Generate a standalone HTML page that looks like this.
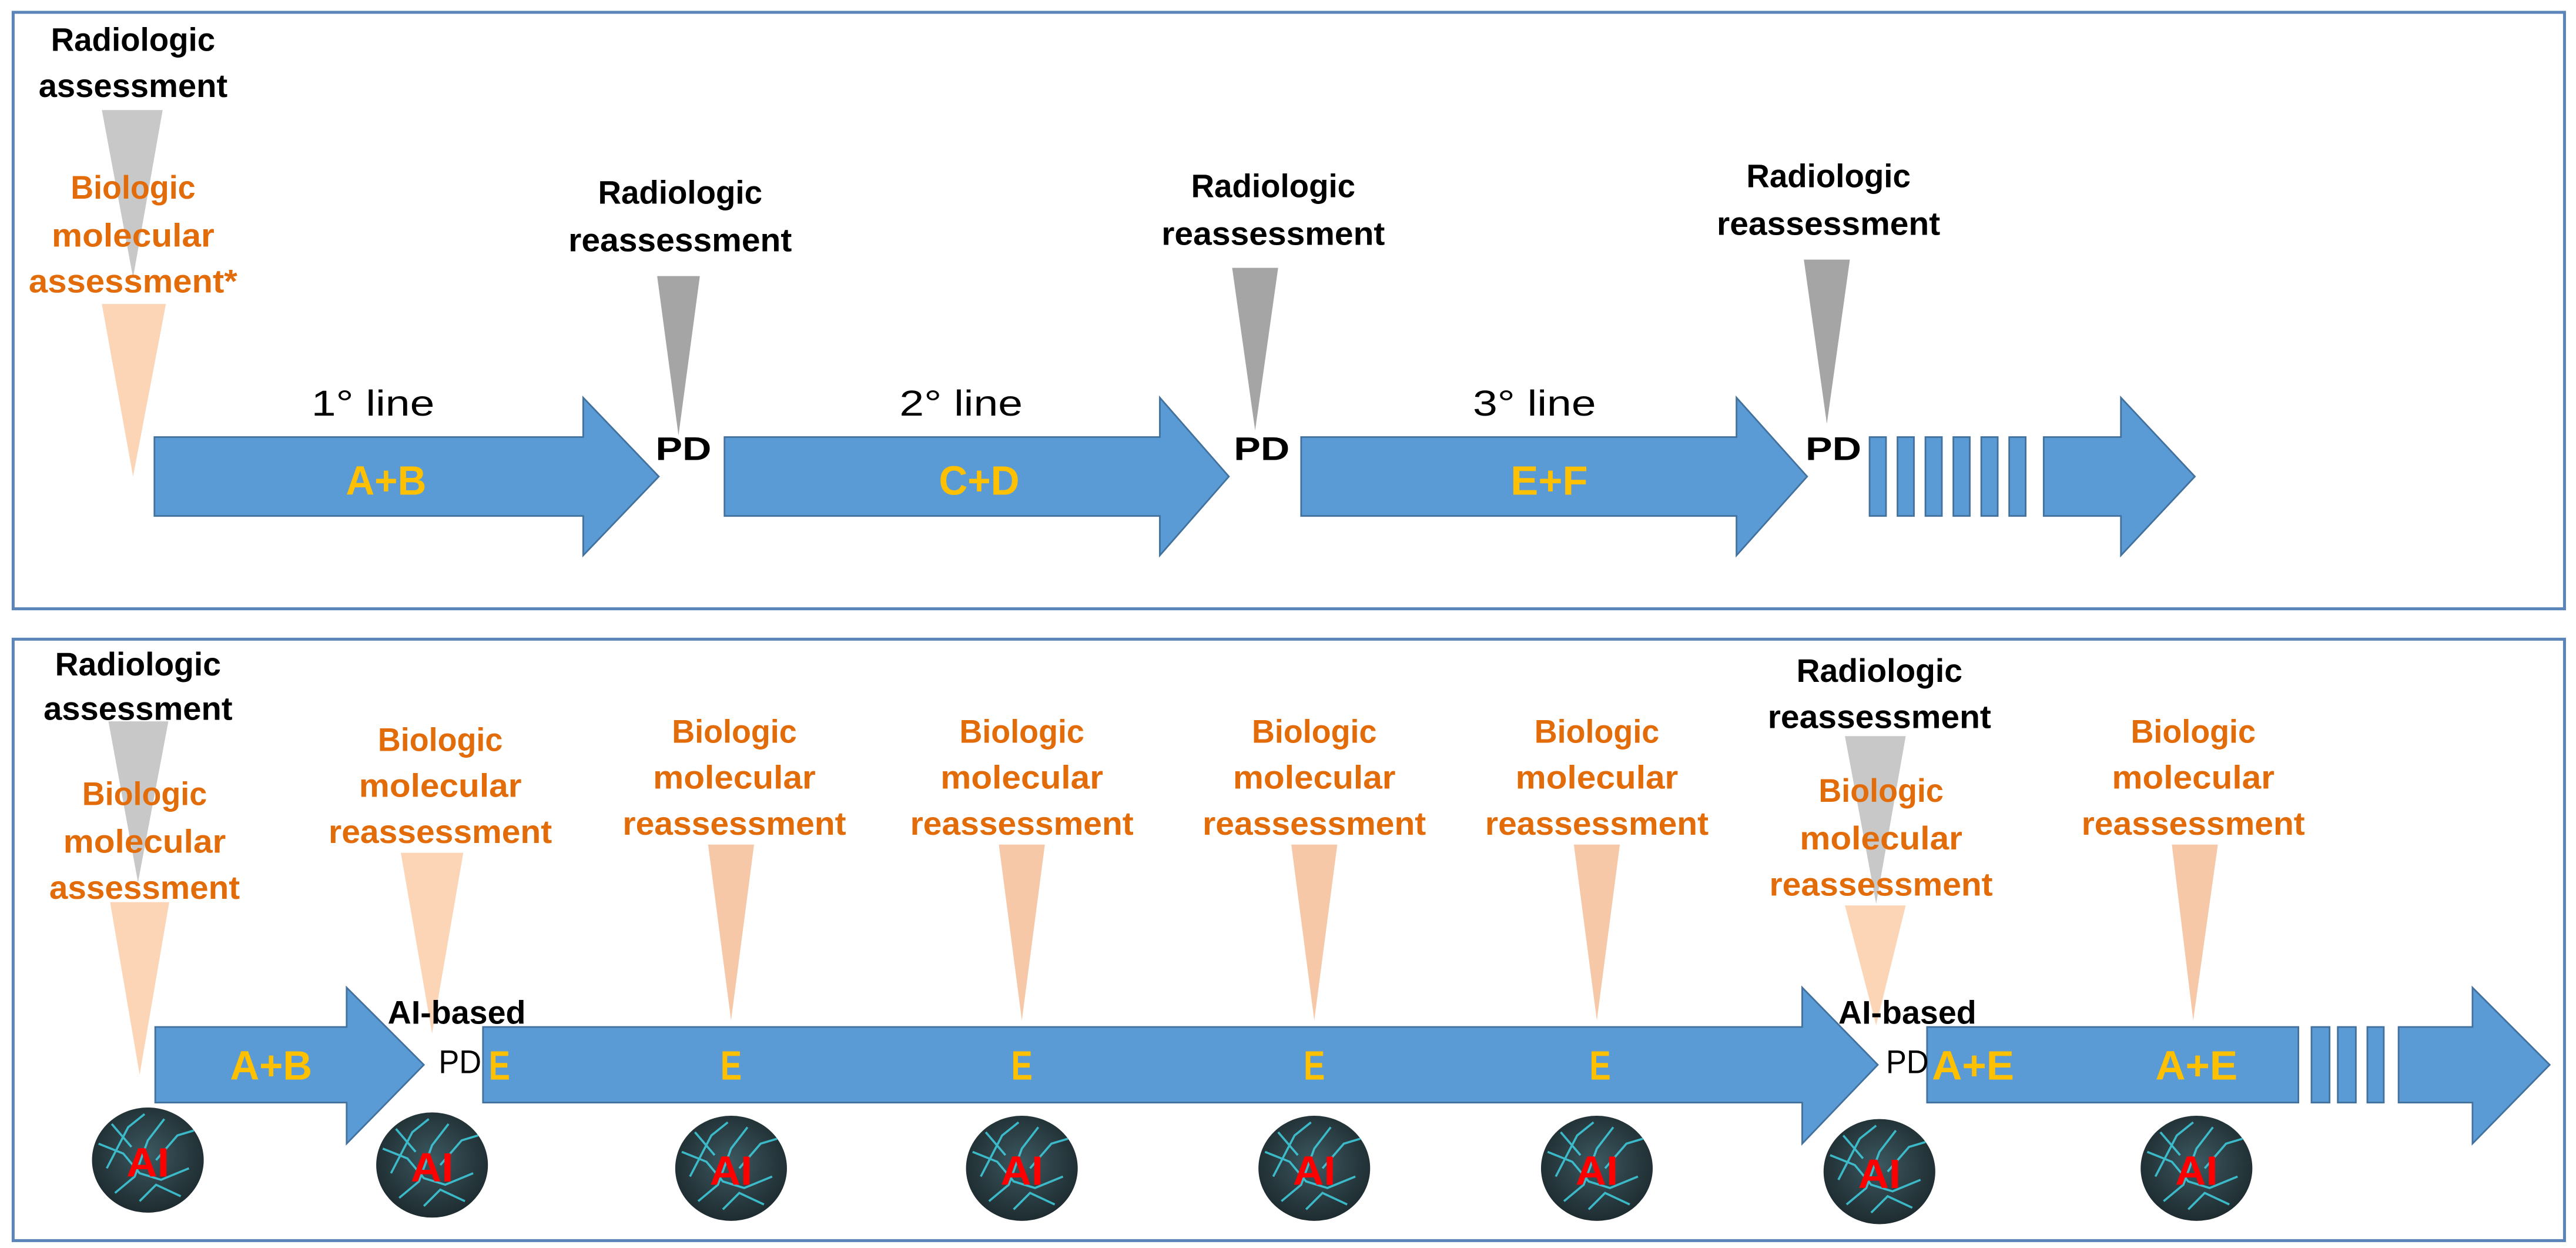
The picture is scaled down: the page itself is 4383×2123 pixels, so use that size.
<!DOCTYPE html>
<html><head><meta charset="utf-8"><style>
html,body{margin:0;padding:0;background:#fff;}
svg{display:block;}
text{font-family:"Liberation Sans",Arial,sans-serif;}
.b{font-weight:bold;font-size:20px;fill:#000;}
.o{font-weight:bold;font-size:20px;fill:#E36C0A;}
.y{font-weight:bold;font-size:25px;fill:#FFC000;}
.r{font-weight:bold;font-size:25px;fill:#FF0000;}
.n{font-size:22px;fill:#000;}
</style></head><body>
<svg width="4383" height="2123" viewBox="0 0 1568 759.5" preserveAspectRatio="none" xmlns="http://www.w3.org/2000/svg">
<defs>
<radialGradient id="ai" cx="50%" cy="45%" r="55%">
<stop offset="0" stop-color="#3c5860"/><stop offset="1" stop-color="#1e2c30"/>
</radialGradient>
<g id="circ">
<ellipse cx="0" cy="0" rx="34" ry="32" fill="url(#ai)"/>
<path d="M-30,-10 L-15,-4 L-5,8 L8,12 L25,5 M-20,20 L-8,10 L0,-12 L10,-25 M5,0 L18,-15 L28,-18 M-25,5 L-12,-20 L-2,-28 M-5,25 L5,15 L20,22 M-10,-8 L-22,-22" stroke="#3fd0e0" stroke-width="1.3" fill="none" opacity="0.85"/>
<text x="0" y="10" text-anchor="middle" class="r" textLength="26" lengthAdjust="spacingAndGlyphs">AI</text>
</g>
</defs>

<!-- boxes -->
<rect x="8" y="7.5" width="1553" height="363" fill="none" stroke="#5b84b8" stroke-width="1.8"/>
<rect x="8" y="389" width="1553" height="366" fill="none" stroke="#5b84b8" stroke-width="1.8"/>

<!-- ===== TOP ROW ===== -->
<polygon points="62,67 99,67 81,169" fill="#c8c8c8"/>
<polygon points="62,185 101,185 81,290" fill="#fbd5b5"/>
<text x="81" y="31" text-anchor="middle" class="b" textLength="100" lengthAdjust="spacingAndGlyphs">Radiologic</text>
<text x="81" y="59" text-anchor="middle" class="b" textLength="115" lengthAdjust="spacingAndGlyphs">assessment</text>
<text x="81" y="121" text-anchor="middle" class="o" textLength="76" lengthAdjust="spacingAndGlyphs">Biologic</text>
<text x="81" y="150" text-anchor="middle" class="o" textLength="99" lengthAdjust="spacingAndGlyphs">molecular</text>
<text x="81" y="178" text-anchor="middle" class="o" textLength="127" lengthAdjust="spacingAndGlyphs">assessment*</text>

<polygon points="94,266 355,266 355,242 401,290 355,338 355,314 94,314" fill="#5b9bd5" stroke="#41719c" stroke-width="1"/>
<polygon points="441,266 706,266 706,242 748,290 706,338 706,314 441,314" fill="#5b9bd5" stroke="#41719c" stroke-width="1"/>
<polygon points="792,266 1057,266 1057,242 1100,290 1057,338 1057,314 792,314" fill="#5b9bd5" stroke="#41719c" stroke-width="1"/>
<g fill="#5b9bd5" stroke="#41719c" stroke-width="1">
<rect x="1138" y="266" width="10" height="48"/><rect x="1155" y="266" width="10" height="48"/>
<rect x="1172" y="266" width="10" height="48"/><rect x="1189" y="266" width="10" height="48"/>
<rect x="1206" y="266" width="10" height="48"/><rect x="1223" y="266" width="10" height="48"/>
</g>
<polygon points="1244,266 1291,266 1291,242 1336,290 1291,338 1291,314 1244,314" fill="#5b9bd5" stroke="#41719c" stroke-width="1"/>

<text x="227" y="253" text-anchor="middle" class="n" textLength="75" lengthAdjust="spacingAndGlyphs">1° line</text>
<text x="585" y="253" text-anchor="middle" class="n" textLength="75" lengthAdjust="spacingAndGlyphs">2° line</text>
<text x="934" y="253" text-anchor="middle" class="n" textLength="75" lengthAdjust="spacingAndGlyphs">3° line</text>
<text x="235" y="301" text-anchor="middle" class="y" textLength="49" lengthAdjust="spacingAndGlyphs">A+B</text>
<text x="596" y="301" text-anchor="middle" class="y" textLength="49" lengthAdjust="spacingAndGlyphs">C+D</text>
<text x="943" y="301" text-anchor="middle" class="y" textLength="47" lengthAdjust="spacingAndGlyphs">E+F</text>

<polygon points="400,168 426,168 413,265" fill="#a5a5a5"/>
<polygon points="750,163 778,163 764,262" fill="#a5a5a5"/>
<polygon points="1098,158 1126,158 1112,258" fill="#a5a5a5"/>
<text x="416" y="280" text-anchor="middle" class="b" textLength="34" lengthAdjust="spacingAndGlyphs">PD</text>
<text x="768" y="280" text-anchor="middle" class="b" textLength="34" lengthAdjust="spacingAndGlyphs">PD</text>
<text x="1116" y="280" text-anchor="middle" class="b" textLength="34" lengthAdjust="spacingAndGlyphs">PD</text>

<text x="414" y="124" text-anchor="middle" class="b" textLength="100" lengthAdjust="spacingAndGlyphs">Radiologic</text>
<text x="414" y="153" text-anchor="middle" class="b" textLength="136" lengthAdjust="spacingAndGlyphs">reassessment</text>
<text x="775" y="120" text-anchor="middle" class="b" textLength="100" lengthAdjust="spacingAndGlyphs">Radiologic</text>
<text x="775" y="149" text-anchor="middle" class="b" textLength="136" lengthAdjust="spacingAndGlyphs">reassessment</text>
<text x="1113" y="114" text-anchor="middle" class="b" textLength="100" lengthAdjust="spacingAndGlyphs">Radiologic</text>
<text x="1113" y="143" text-anchor="middle" class="b" textLength="136" lengthAdjust="spacingAndGlyphs">reassessment</text>

<!-- ===== BOTTOM ROW ===== -->
<polygon points="66,439 102.5,439 84,537" fill="#c8c8c8"/>
<polygon points="67,549 103,549 85,654" fill="#fbd5b5"/>
<text x="84" y="411" text-anchor="middle" class="b" textLength="101" lengthAdjust="spacingAndGlyphs">Radiologic</text>
<text x="84" y="438" text-anchor="middle" class="b" textLength="115" lengthAdjust="spacingAndGlyphs">assessment</text>
<text x="88" y="490" text-anchor="middle" class="o" textLength="76" lengthAdjust="spacingAndGlyphs">Biologic</text>
<text x="88" y="519" text-anchor="middle" class="o" textLength="99" lengthAdjust="spacingAndGlyphs">molecular</text>
<text x="88" y="547" text-anchor="middle" class="o" textLength="116" lengthAdjust="spacingAndGlyphs">assessment</text>

<polygon points="94.5,625 211,625 211,601 258,648 211,696 211,671 94.5,671" fill="#5b9bd5" stroke="#41719c" stroke-width="1"/>
<polygon points="294,625 1097,625 1097,601 1143,648 1097,696 1097,671 294,671" fill="#5b9bd5" stroke="#41719c" stroke-width="1"/>
<rect x="1173" y="625" width="226" height="46" fill="#5b9bd5" stroke="#41719c" stroke-width="1"/>
<g fill="#5b9bd5" stroke="#41719c" stroke-width="1">
<rect x="1407" y="625" width="11" height="46"/><rect x="1423" y="625" width="11" height="46"/><rect x="1441" y="625" width="10" height="46"/>
</g>
<polygon points="1460,625 1505,625 1505,601 1552,648 1505,696 1505,671 1460,671" fill="#5b9bd5" stroke="#41719c" stroke-width="1"/>

<text x="165" y="657" text-anchor="middle" class="y" textLength="50" lengthAdjust="spacingAndGlyphs">A+B</text>
<text x="304" y="657" text-anchor="middle" class="y" textLength="13" lengthAdjust="spacingAndGlyphs">E</text>
<text x="445" y="657" text-anchor="middle" class="y" textLength="13" lengthAdjust="spacingAndGlyphs">E</text>
<text x="622" y="657" text-anchor="middle" class="y" textLength="13" lengthAdjust="spacingAndGlyphs">E</text>
<text x="800" y="657" text-anchor="middle" class="y" textLength="13" lengthAdjust="spacingAndGlyphs">E</text>
<text x="974" y="657" text-anchor="middle" class="y" textLength="13" lengthAdjust="spacingAndGlyphs">E</text>
<text x="1201" y="657" text-anchor="middle" class="y" textLength="50" lengthAdjust="spacingAndGlyphs">A+E</text>
<text x="1337" y="657" text-anchor="middle" class="y" textLength="50" lengthAdjust="spacingAndGlyphs">A+E</text>

<!-- peach reassessment triangles -->
<polygon points="244,519 282,519 263,629" fill="#fbd5b5"/>
<polygon points="431,514 459,514 445,621" fill="#f6c8a8"/>
<polygon points="608,514 636,514 622,621" fill="#f6c8a8"/>
<polygon points="786,514 814,514 800,621" fill="#f6c8a8"/>
<polygon points="958,514 986,514 972,621" fill="#f6c8a8"/>
<polygon points="1322,514 1350,514 1335,621" fill="#f6c8a8"/>
<polygon points="1123,448 1160,448 1142,550" fill="#c8c8c8"/>
<polygon points="1123,551 1160,551 1142,624" fill="#fbd5b5"/>

<g>
<text x="268" y="457" text-anchor="middle" class="o" textLength="76" lengthAdjust="spacingAndGlyphs">Biologic</text>
<text x="268" y="485" text-anchor="middle" class="o" textLength="99" lengthAdjust="spacingAndGlyphs">molecular</text>
<text x="268" y="513" text-anchor="middle" class="o" textLength="136" lengthAdjust="spacingAndGlyphs">reassessment</text>
</g>
<g>
<text x="447" y="452" text-anchor="middle" class="o" textLength="76" lengthAdjust="spacingAndGlyphs">Biologic</text>
<text x="447" y="480" text-anchor="middle" class="o" textLength="99" lengthAdjust="spacingAndGlyphs">molecular</text>
<text x="447" y="508" text-anchor="middle" class="o" textLength="136" lengthAdjust="spacingAndGlyphs">reassessment</text>
</g>
<g>
<text x="622" y="452" text-anchor="middle" class="o" textLength="76" lengthAdjust="spacingAndGlyphs">Biologic</text>
<text x="622" y="480" text-anchor="middle" class="o" textLength="99" lengthAdjust="spacingAndGlyphs">molecular</text>
<text x="622" y="508" text-anchor="middle" class="o" textLength="136" lengthAdjust="spacingAndGlyphs">reassessment</text>
</g>
<g>
<text x="800" y="452" text-anchor="middle" class="o" textLength="76" lengthAdjust="spacingAndGlyphs">Biologic</text>
<text x="800" y="480" text-anchor="middle" class="o" textLength="99" lengthAdjust="spacingAndGlyphs">molecular</text>
<text x="800" y="508" text-anchor="middle" class="o" textLength="136" lengthAdjust="spacingAndGlyphs">reassessment</text>
</g>
<g>
<text x="972" y="452" text-anchor="middle" class="o" textLength="76" lengthAdjust="spacingAndGlyphs">Biologic</text>
<text x="972" y="480" text-anchor="middle" class="o" textLength="99" lengthAdjust="spacingAndGlyphs">molecular</text>
<text x="972" y="508" text-anchor="middle" class="o" textLength="136" lengthAdjust="spacingAndGlyphs">reassessment</text>
</g>
<g>
<text x="1335" y="452" text-anchor="middle" class="o" textLength="76" lengthAdjust="spacingAndGlyphs">Biologic</text>
<text x="1335" y="480" text-anchor="middle" class="o" textLength="99" lengthAdjust="spacingAndGlyphs">molecular</text>
<text x="1335" y="508" text-anchor="middle" class="o" textLength="136" lengthAdjust="spacingAndGlyphs">reassessment</text>
</g>
<text x="1144" y="415" text-anchor="middle" class="b" textLength="101" lengthAdjust="spacingAndGlyphs">Radiologic</text>
<text x="1144" y="443" text-anchor="middle" class="b" textLength="136" lengthAdjust="spacingAndGlyphs">reassessment</text>
<text x="1145" y="488" text-anchor="middle" class="o" textLength="76" lengthAdjust="spacingAndGlyphs">Biologic</text>
<text x="1145" y="517" text-anchor="middle" class="o" textLength="99" lengthAdjust="spacingAndGlyphs">molecular</text>
<text x="1145" y="545" text-anchor="middle" class="o" textLength="136" lengthAdjust="spacingAndGlyphs">reassessment</text>

<text x="278" y="623" text-anchor="middle" class="b" textLength="84" lengthAdjust="spacingAndGlyphs">AI-based</text>
<text x="280" y="653" text-anchor="middle" class="b" textLength="26" lengthAdjust="spacingAndGlyphs" style="font-weight:normal">PD</text>
<text x="1161" y="623" text-anchor="middle" class="b" textLength="84" lengthAdjust="spacingAndGlyphs">AI-based</text>
<text x="1161" y="653" text-anchor="middle" class="b" textLength="26" lengthAdjust="spacingAndGlyphs" style="font-weight:normal">PD</text>

<use href="#circ" x="90" y="706"/>
<use href="#circ" x="263" y="709"/>
<use href="#circ" x="445" y="711"/>
<use href="#circ" x="622" y="711"/>
<use href="#circ" x="800" y="711"/>
<use href="#circ" x="972" y="711"/>
<use href="#circ" x="1144" y="713"/>
<use href="#circ" x="1337" y="711"/>
</svg>
</body></html>
